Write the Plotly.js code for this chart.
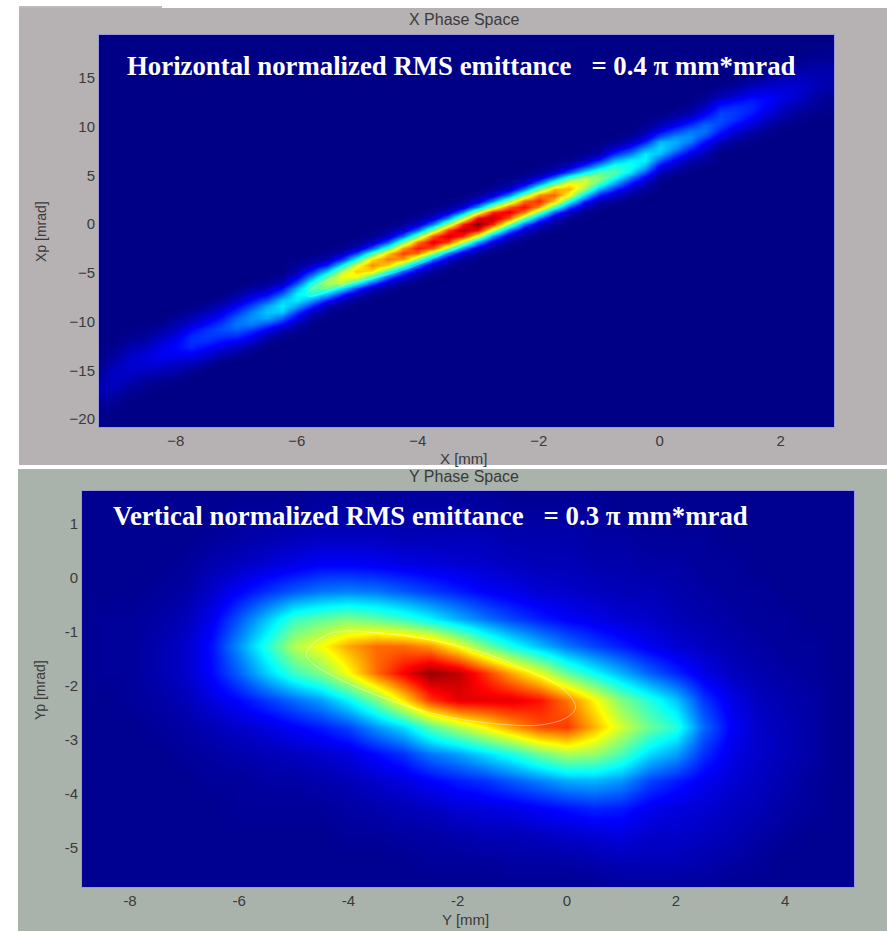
<!DOCTYPE html>
<html><head><meta charset="utf-8">
<script src="https://cdn.plot.ly/plotly-3.0.1.min.js"></script>
<style>html,body{margin:0;padding:0;background:#fff}</style></head>
<body><div id="chart" style="width:887px;height:931px"></div>
<script>
// ---- top plot: X phase space. Columns every 0.25 mm, rows every 0.6 mrad
const xCols = [-9.25,-9,-8.75,-8.5,-8.25,-8,-7.75,-7.5,-7.25,-7,-6.75,-6.5,-6.25,-6,-5.75,-5.5,-5.25,-5,-4.75,-4.5,-4.25,-4,-3.75,-3.5,-3.25,-3,-2.75,-2.5,-2.25,-2,-1.75,-1.5,-1.25,-1,-0.75,-0.5,-0.25,0,0.25,0.5,0.75,1,1.25,1.5,1.75,2,2.25,2.5,2.75];
const xpRows = [-21,-20.4,-19.8,-19.2,-18.6,-18,-17.4,-16.8,-16.2,-15.6,-15,-14.4,-13.8,-13.2,-12.6,-12,-11.4,-10.8,-10.2,-9.6,-9,-8.4,-7.8,-7.2,-6.6,-6,-5.4,-4.8,-4.2,-3.6,-3,-2.4,-1.8,-1.2,-0.6,0,0.6,1.2,1.8,2.4,3,3.6,4.2,4.8,5.4,6,6.6,7.2,7.8,8.4,9,9.6,10.2,10.8,11.4,12,12.6,13.2,13.8,14.4,15,15.6,16.2,16.8,17.4,18,18.6,19.2];
// first row index of the readable band in each column
const xBandStart = [2,4,6,7,8,9,10,11,12,13,14,15,16,17,19,20,21,22,23,24,25,26,27,28,29,30,31,32,33,34,35,36,37,38,39,40,41,43,44,45,46,48,49,50,51,52,53,54,55];
// readings across the band, column by column
const xBand = [
[.01,.01,.02,.03,.05,.05,.05,.03,.02,.01,.01],[.01,.02,.03,.05,.06,.07,.06,.05,.03,.02,.01],
[.01,.02,.04,.06,.07,.08,.07,.06,.04,.02,.01],[.01,.02,.04,.06,.08,.09,.08,.06,.04,.02,.01],
[.01,.03,.05,.08,.10,.11,.10,.08,.05,.03,.01],[.02,.04,.06,.09,.12,.13,.12,.09,.06,.04,.02],
[.02,.05,.08,.12,.16,.17,.16,.12,.08,.05,.02],[.02,.05,.09,.13,.17,.18,.17,.13,.09,.05,.02],
[.02,.05,.10,.14,.18,.20,.18,.14,.10,.05,.02],[.03,.06,.12,.17,.22,.24,.22,.17,.12,.06,.03],
[.03,.07,.13,.19,.25,.27,.25,.19,.13,.07,.03],[.02,.05,.12,.20,.29,.32,.29,.20,.12,.05,.02],
[.02,.05,.13,.22,.32,.36,.32,.22,.13,.05,.02],[.02,.04,.10,.18,.28,.36,.37,.30,.20,.11,.04,.02],
[.02,.06,.16,.28,.41,.46,.41,.28,.16,.06,.02],[.01,.04,.15,.32,.48,.55,.48,.32,.15,.04,.01],
[.01,.05,.17,.36,.55,.62,.55,.36,.17,.05,.01],[.01,.05,.19,.39,.6,.68,.6,.39,.19,.05,.01],
[.01,.06,.21,.43,.65,.74,.65,.43,.21,.06,.01],[.02,.06,.21,.44,.67,.76,.67,.44,.21,.06,.02],
[.02,.07,.23,.48,.72,.82,.72,.48,.23,.07,.02],[.02,.07,.24,.5,.76,.86,.76,.5,.24,.07,.02],
[.02,.07,.25,.52,.79,.9,.79,.52,.25,.07,.02],[.02,.07,.26,.53,.81,.92,.81,.53,.26,.07,.02],
[.02,.08,.27,.55,.84,.95,.84,.55,.27,.08,.02],[.02,.08,.28,.58,.88,1,.88,.58,.28,.08,.02],
[.02,.08,.27,.55,.84,.95,.84,.55,.27,.08,.02],[.02,.07,.25,.52,.79,.9,.79,.52,.25,.07,.02],
[.02,.07,.24,.5,.77,.87,.77,.5,.24,.07,.02],[.02,.07,.24,.49,.74,.84,.74,.49,.24,.07,.02],
[.02,.06,.22,.45,.69,.78,.69,.45,.22,.06,.02],[.01,.06,.2,.41,.62,.7,.62,.41,.2,.06,.01],
[.01,.05,.17,.35,.53,.6,.53,.35,.17,.05,.01],[.01,.04,.15,.3,.46,.52,.46,.3,.15,.04,.01],
[.02,.07,.17,.29,.41,.46,.41,.29,.17,.07,.02],[.02,.06,.15,.25,.36,.40,.36,.25,.15,.06,.02],
[.02,.05,.12,.21,.31,.37,.36,.27,.16,.08,.03,.01],[.02,.05,.12,.21,.31,.34,.31,.21,.12,.05,.02],
[.02,.05,.11,.19,.27,.30,.27,.19,.11,.05,.02],[.02,.04,.10,.17,.24,.27,.24,.17,.10,.04,.02],
[.02,.04,.08,.13,.19,.24,.23,.17,.11,.07,.03,.01],[.02,.05,.10,.15,.19,.20,.19,.15,.10,.05,.02],
[.02,.04,.08,.13,.17,.18,.17,.13,.08,.04,.02],[.02,.04,.08,.12,.15,.16,.15,.12,.08,.04,.02],
[.01,.03,.06,.09,.12,.13,.12,.09,.06,.03,.01],[.01,.03,.05,.07,.09,.10,.09,.07,.05,.03,.01],
[.01,.02,.04,.06,.07,.08,.07,.06,.04,.02,.01],[.01,.02,.03,.04,.05,.06,.05,.04,.03,.02,.01],
[.01,.01,.02,.03,.04,.04,.04,.03,.02,.01,.01]];
const xEllipseX = [-5.83,-5.12,-4.30,-3.47,-2.64,-1.82,-1.21,-1.32,-1.82,-2.64,-3.47,-4.30,-5.12,-5.79,-5.83];
const xEllipseY = [-7.08,-4.62,-2.26,-0.21,2.05,3.59,4.62,3.90,2.16,-0.41,-2.77,-4.83,-6.06,-7.39,-7.08];

// ---- bottom plot: Y phase space. Columns every 0.5 mm, rows every 0.5 mrad (top to bottom)
const yCols = [-9,-8.5,-8,-7.5,-7,-6.5,-6,-5.5,-5,-4.5,-4,-3.5,-3,-2.5,-2,-1.5,-1,-0.5,0,0.5,1,1.5,2,2.5,3,3.5,4,4.5,5,5.5];
const ypRows = [1.75,1.25,0.75,0.25,-0.25,-0.75,-1.25,-1.75,-2.25,-2.75,-3.25,-3.75,-4.25,-4.75,-5.25,-5.75];
const yColumns = [
[.01,.01,.01,.01,.01,.01,.01,.01,.01,.01,.01,.01,.01,.01,.01,.01],
[.01,.01,.01,.01,.01,.02,.02,.02,.01,.01,.01,.01,.01,.01,.01,.01],
[.01,.01,.01,.01,.01,.02,.02,.02,.02,.01,.01,.01,.01,.01,.01,.01],
[.01,.01,.01,.01,.02,.03,.04,.04,.03,.02,.01,.01,.01,.01,.01,.01],
[.01,.01,.01,.02,.03,.05,.07,.07,.05,.03,.02,.01,.01,.01,.01,.01],
[.01,.01,.02,.04,.07,.11,.14,.13,.09,.05,.03,.02,.01,.01,.01,.01],
[.01,.02,.03,.06,.12,.21,.27,.22,.13,.07,.04,.02,.02,.01,.01,.01],
[.01,.02,.04,.08,.17,.32,.41,.33,.18,.09,.05,.03,.02,.01,.01,.01],
[.01,.02,.05,.10,.21,.43,.55,.43,.23,.12,.06,.03,.02,.01,.01,.01],
[.02,.03,.06,.12,.24,.47,.62,.50,.28,.15,.07,.04,.02,.01,.01,.01],
[.02,.03,.06,.12,.25,.50,.71,.62,.37,.19,.09,.05,.03,.02,.01,.01],
[.02,.03,.06,.11,.24,.47,.77,.77,.49,.27,.13,.07,.04,.02,.01,.01],
[.02,.03,.05,.10,.21,.43,.77,.88,.65,.34,.17,.09,.05,.03,.01,.01],
[.02,.03,.05,.09,.18,.37,.73,.98,.82,.46,.24,.12,.06,.03,.02,.01],
[.02,.03,.05,.08,.15,.30,.62,.94,.90,.55,.28,.15,.08,.04,.02,.01],
[.01,.03,.05,.07,.12,.24,.49,.83,.90,.63,.34,.17,.09,.05,.02,.01],
[.01,.02,.04,.06,.10,.19,.39,.71,.90,.72,.40,.21,.10,.05,.03,.01],
[.01,.02,.04,.05,.08,.15,.31,.60,.86,.80,.48,.25,.12,.06,.03,.01],
[.01,.02,.04,.05,.07,.12,.24,.47,.76,.82,.54,.29,.14,.07,.03,.01],
[.01,.02,.03,.04,.06,.10,.19,.38,.63,.70,.52,.30,.16,.08,.04,.01],
[.01,.01,.03,.04,.05,.08,.15,.30,.50,.58,.45,.27,.15,.09,.05,.02],
[.01,.01,.02,.03,.05,.07,.11,.22,.41,.48,.34,.19,.11,.07,.05,.02],
[.01,.01,.02,.03,.04,.05,.08,.16,.32,.41,.28,.15,.09,.07,.05,.02],
[.01,.01,.02,.02,.03,.04,.06,.10,.18,.23,.17,.11,.08,.06,.04,.02],
[.01,.01,.01,.02,.02,.03,.04,.06,.10,.12,.10,.08,.06,.05,.03,.01],
[.01,.01,.01,.01,.02,.02,.03,.04,.06,.07,.07,.06,.05,.03,.02,.01],
[.01,.01,.01,.01,.01,.02,.02,.03,.04,.05,.05,.04,.03,.02,.01,.01],
[.01,.01,.01,.01,.01,.01,.02,.02,.03,.03,.03,.02,.02,.01,.01,.01],
[.01,.01,.01,.01,.01,.01,.01,.01,.01,.01,.01,.01,.01,.01,.01,.01],
[.01,.01,.01,.01,.01,.01,.01,.01,.01,.01,.01,.01,.01,.01,.01,.01]];
const yEllipseX = [-4.77,-4.31,-3.40,-2.49,-1.57,-0.66,-0.05,0.16,0.02,-0.48,-1.57,-2.49,-3.40,-4.31,-4.72,-4.77];
const yEllipseY = [-1.37,-1.02,-1.02,-1.15,-1.37,-1.74,-2.07,-2.39,-2.57,-2.72,-2.67,-2.50,-2.20,-1.80,-1.52,-1.37];

// ---- tick labels
const xTickVals = [-8,-6,-4,-2,0,2];
const xpTickVals = [-20,-15,-10,-5,0,5,10,15];
const yTickVals = [-8,-6,-4,-2,0,2,4];
const yTickText = ['-8','-6','-4','-2','0','2','4'];
const ypTickVals = [-5,-4,-3,-2,-1,0,1];
const ypTickText = ['-5','-4','-3','-2','-1','0','1'];

// ---- assemble the matrices from the readings
const xMatrix = xpRows.map(() => xCols.map(() => 0));
xBand.forEach((col, i) => col.forEach((v, k) => { xMatrix[xBandStart[i] + k][i] = v; }));
const yMatrix = ypRows.map((_, r) => yCols.map((_, c) => yColumns[c][r]));

const jet = [[0,'rgb(0,0,135)'],[0.125,'rgb(0,0,255)'],[0.375,'rgb(0,255,255)'],[0.625,'rgb(255,255,0)'],[0.875,'rgb(255,0,0)'],[1,'rgb(128,0,0)']];
const W = 887, H = 931;
const px = (a, b) => [a / W, b / W];
const py = (top, bottom) => [(H - bottom) / H, (H - top) / H];
const sans = '"Liberation Sans", Arial, sans-serif';
const serif = '"Liberation Serif", "Times New Roman", serif';

const heat = (x, y, z, xa, ya) => ({type:'heatmap', x, y, z, xaxis:xa, yaxis:ya, colorscale:jet, zmin:0, zmax:1, zsmooth:'best', showscale:false, hoverinfo:'skip'});
const traces = [
  heat(xCols, xpRows, xMatrix, 'x', 'y'),
  {type:'scatter', mode:'lines', x:xEllipseX, y:xEllipseY, xaxis:'x', yaxis:'y', line:{color:'rgba(255,255,255,0.25)', width:1, shape:'spline'}, hoverinfo:'skip'},
  heat(yCols, ypRows, yMatrix, 'x2', 'y2'),
  {type:'scatter', mode:'lines', x:yEllipseX, y:yEllipseY, xaxis:'x2', yaxis:'y2', line:{color:'rgba(255,255,255,0.45)', width:1, shape:'spline'}, hoverinfo:'skip'}
];
const tf = {family:sans, size:15, color:'#3a3a3a'};
const axis = (o) => Object.assign({showgrid:false, zeroline:false, ticks:'', tickfont:tf, tickmode:'array', showline:true, linecolor:'#9a9ad8', linewidth:1, mirror:true, layer:'above traces'}, o);
const note = (x, y, text, extra) => Object.assign({xref:'paper', yref:'paper', x:x/W, y:(H-y)/H, text, showarrow:false, xanchor:'center', yanchor:'middle', font:{family:sans, size:15, color:'#3a3a3a'}}, extra||{});
const white = {xanchor:'left', font:{family:serif, size:26.8, color:'#ffffff'}};
const rot = {textangle:-90, font:{family:sans, size:14, color:'#3a3a3a'}};
const head = {font:{family:sans, size:16, color:'#3a3a3a'}};

const layout = {
  width:W, height:H, margin:{l:0,r:0,t:0,b:0}, paper_bgcolor:'#ffffff', plot_bgcolor:'#00008b', showlegend:false,
  xaxis:axis({domain:px(99,834), range:[-9.27,2.88], tickvals:xTickVals, anchor:'y'}),
  yaxis:axis({domain:py(35,427), range:[-20.82,19.42], tickvals:xpTickVals, anchor:'x'}),
  xaxis2:axis({domain:px(82,854), range:[-8.88,5.26], tickvals:yTickVals, ticktext:yTickText, anchor:'y2'}),
  yaxis2:axis({domain:py(491,887), range:[-5.72,1.61], tickvals:ypTickVals, ticktext:ypTickText, anchor:'x2'}),
  shapes:[
    {type:'rect', xref:'paper', yref:'paper', layer:'below', x0:19/W, x1:1, y0:(H-465)/H, y1:(H-8)/H, fillcolor:'#b6b2b4', line:{width:0}},
    {type:'rect', xref:'paper', yref:'paper', layer:'below', x0:18/W, x1:1, y0:0, y1:(H-469)/H, fillcolor:'#a9b3ab', line:{width:0}},
    {type:'line', xref:'paper', yref:'paper', layer:'below', x0:19/W, x1:162/W, y0:(H-7)/H, y1:(H-7)/H, line:{color:'#777777', width:1}}
  ],
  annotations:[
    note(464,20,'X Phase Space',head), note(464,458,'X [mm]'), note(41,232,'Xp [mrad]',rot),
    note(464,476,'Y Phase Space',head), note(465,919,'Y [mm]'), note(40,690,'Yp [mrad]',rot),
    note(125,66,'<b>Horizontal normalized RMS emittance   = 0.4 π mm*mrad</b>',white),
    note(111,516,'<b>Vertical normalized RMS emittance   = 0.3 π mm*mrad</b>',white)
  ]
};
Plotly.newPlot('chart', traces, layout, {displayModeBar:false, staticPlot:true});
</script></body></html>
